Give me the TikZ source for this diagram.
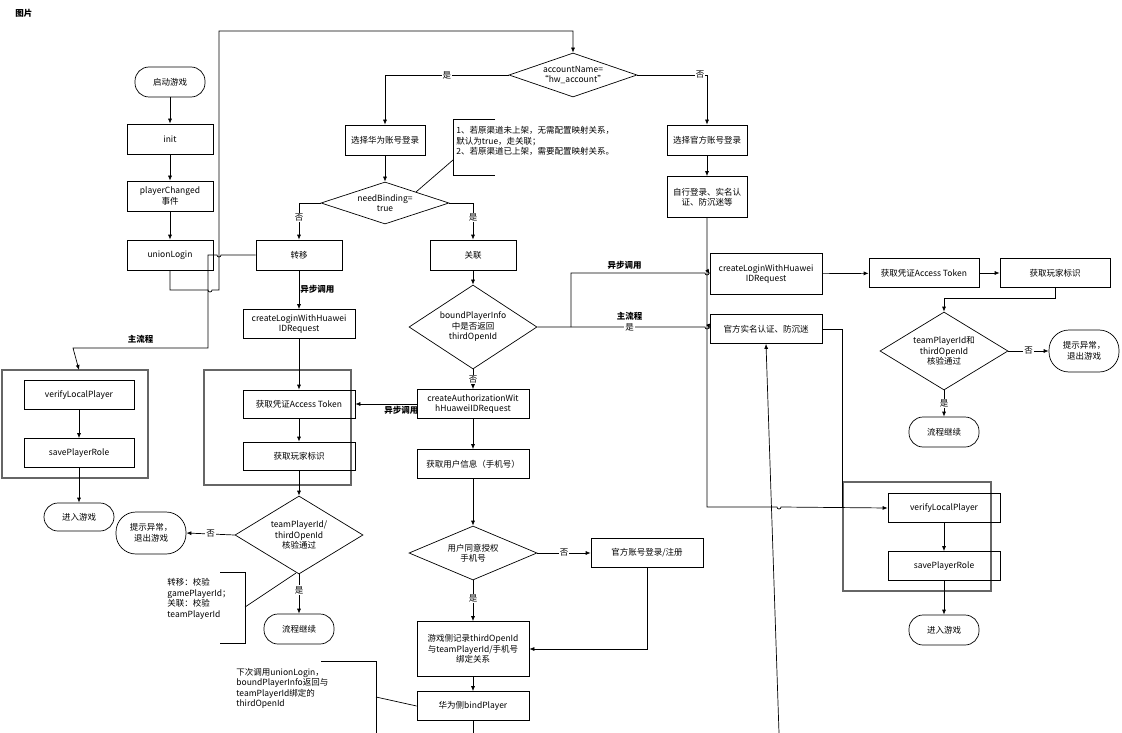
\documentclass[tikz,border=0pt]{standalone}
\usepackage{fontspec}
\setmainfont{Noto Sans CJK SC}
\usetikzlibrary{positioning,shapes.geometric,arrows.meta}
\begin{document}
\fontsize{8.5}{10.5}\selectfont
\begin{tikzpicture}
[
x=1pt, y=-1pt, line width=0.7pt,
box-a/.style={rectangle, draw, minimum width = 86pt, minimum height = 30pt, inner sep=1pt, align=center},
box-b/.style={box-a, minimum width = 112pt},
term-a/.style={rectangle, draw, rounded corners = 14pt, minimum width = 70pt, minimum height = 30pt, align=center},
dec-a/.style={diamond, draw, aspect = 1.7, inner sep = -4pt, minimum width = 128pt, align=center},
group-a/.style={draw, line width=1.1pt, black!60},
text-a/.style={black, align=left, inner sep=1pt},
text-b/.style={black, font=\bfseries, inner sep=1pt},
yes-no/.style={fill=white, inner sep=1pt},
flow/.style={-{Latex[length=5pt,width=4pt]}}
]
\useasboundingbox (0,0) rectangle (1122,733);
\node (title)     [text-b, anchor=west] at (14,13) {图片};

% left column
\node (start)     [term-a]                        at (170,82)  {启动游戏};
\node (init)      [box-a]                         at (170,139) {init};
\node (changed)   [box-a]                         at (170,196) {playerChanged\\事件};
\node (union)     [box-a]                         at (170,255) {unionLogin};
\draw [group-a] (2,370) rectangle (148,478);
\node (verify-l)  [box-b, minimum width=110pt, minimum height=29pt] at (79,395) {verifyLocalPlayer};
\node (save-l)    [box-b, minimum width=110pt, minimum height=29pt] at (79,453) {savePlayerRole};
\node (enter-l)   [term-a, minimum height=28pt]   at (79,517)  {进入游戏};

% top branch
\node (acct)      [dec-a, minimum height=44pt]    at (573,75)  {accountName=\\“hw\_account”};
\node (hw)        [box-a, minimum width=80pt]     at (385,140) {选择华为账号登录};
\node (bind)      [dec-a, minimum height=42pt]    at (385,203) {needBinding=\\true};
\node (off)       [box-a, minimum width=80pt]     at (707,140) {选择官方账号登录};
\node (self)      [box-a, minimum width=80pt, minimum height=41pt] at (707,197) {自行登录、实名认\\证、防沉迷等};
\draw (495,119) -| (453,175) -- (495,175);
\node (note-1)    [text-a, anchor=north west]     at (455,125) {1、若原渠道未上架，无需配置映射关系，\\默认为true，走关联；\\2、若原渠道已上架，需要配置映射关系。};
\coordinate (note-1-c) at (453,160);
\draw (416,192) -- (note-1-c);

% transfer branch
\node (move)      [box-a]                         at (299,255) {转移};
\node (link)      [box-a]                         at (473,255) {关联};
\node (login-l)   [box-b, minimum height=29pt]    at (299,324) {createLoginWithHuawei\\IDRequest};
\draw [group-a] (204,370) rectangle (351,485);
\node (token-l)   [box-b, minimum height=28pt]    at (299,404) {获取凭证Access Token};
\node (ident-l)   [box-b, minimum height=28pt]    at (299,456) {获取玩家标识};
\node (check-l)   [dec-a, minimum height=78pt]    at (299,535) {teamPlayerId/\\thirdOpenId\\核验通过};
\node (err-l)     [term-a, rounded corners=20pt, minimum height=42pt] at (151,533) {提示异常，\\退出游戏};
\node (cont-l)    [term-a]                        at (299,629) {流程继续};
\draw (220,572) -| (245,643) -- (220,643);
\node (note-2)    [text-a, anchor=north west]     at (166,577) {转移：校验\\gamePlayerId；\\关联：校验\\teamPlayerId};
\coordinate (note-2-c) at (245,607);
\draw (296,573) -- (note-2-c);

% link branch
\node (bound)     [dec-a, minimum height=84pt]    at (473,327) {boundPlayerInfo\\中是否返回\\thirdOpenId};
\node (auth)      [box-b, minimum height=29pt]    at (473,404) {createAuthorizationWit\\hHuaweiIDRequest};
\node (info)      [box-b, minimum height=29pt]    at (473,464) {获取用户信息（手机号）};
\node (agree)     [dec-a, minimum height=54pt]    at (473,553) {用户同意授权\\手机号};
\node (reg)       [box-b, minimum height=29pt]    at (647,553) {官方账号登录/注册};
\node (record)    [box-b, minimum height=55pt]    at (473,649) {游戏侧记录thirdOpenId\\与teamPlayerId/手机号\\绑定关系};
\node (hwbind)    [box-b, minimum height=29pt]    at (473,706) {华为侧bindPlayer};
\draw (321,661) -| (376,733);
\node (note-3)    [text-a, anchor=north west]     at (235,667) {下次调用unionLogin，\\boundPlayerInfo返回与\\teamPlayerId绑定的\\thirdOpenId};
\coordinate (note-3-c) at (376,697);
\draw (hwbind.west) -- (note-3-c);
\coordinate (hwbind-end) at (473,733);
\coordinate (real-end)   at (779,733);

% right side
\node (login-r)   [box-b, minimum height=41pt]    at (766,274) {createLoginWithHuawei\\IDRequest};
\node (token-r)   [box-b, minimum width=110pt, minimum height=29pt] at (924,273) {获取凭证Access Token};
\node (ident-r)   [box-b, minimum width=110pt, minimum height=29pt] at (1055,273) {获取玩家标识};
\node (real)      [box-b, minimum height=29pt]    at (766,329) {官方实名认证、防沉迷};
\node (check-r)   [dec-a, minimum height=78pt]    at (944,351) {teamPlayerId和\\thirdOpenId\\核验通过};
\node (err-r)     [term-a, rounded corners=20pt, minimum height=42pt] at (1084,351) {提示异常，\\退出游戏};
\node (cont-r)    [term-a]                        at (944,432) {流程继续};
\draw [group-a] (843,482) rectangle (991,591);
\node (verify-r)  [box-b, minimum height=29pt]    at (944,508) {verifyLocalPlayer};
\node (save-r)    [box-b, minimum height=29pt]    at (944,566) {savePlayerRole};
\node (enter-r)   [term-a]                        at (944,630) {进入游戏};

% connectors
\draw [flow] (start) -- (init);
\draw [flow] (init) -- (changed);
\draw [flow] (changed) -- (union);
\draw [flow] (union.south) |- (208,290) arc (180:0:2) -- (219,290) |- (573,31) -- (acct.north);
\draw [flow] (acct.west) -| (hw.north) node[pos=0.25, yes-no] {是};
\draw [flow] (acct.east) -| (off.north) node[pos=0.45, yes-no] {否};
\draw [flow] (hw) -- (bind);
\draw [flow] (off) -- (self);
\draw [flow] (bind.west) -| (move.north) node[pos=0.7, yes-no] {否};
\draw [flow] (bind.east) -| (link.north) node[pos=0.7, yes-no] {是};
\draw [flow] (move.west) -- (221,255) arc (0:180:2) -- (208,255) |- (73,348) node[pos=0.75, above=3pt, text-b] {主流程} -- (verify-l.north |- 370,370);
\draw [flow] (verify-l) -- (save-l);
\draw [flow] (save-l) -- (enter-l);
\draw [flow] (move) -- (login-l) node[midway, right, text-b] {异步调用};
\draw [flow] (login-l) -- (token-l);
\draw [flow] (token-l) -- (ident-l);
\draw [flow] (ident-l) -- (check-l);
\draw [flow] (check-l.west) -- (err-l.east) node[midway, yes-no] {否};
\draw [flow] (check-l.south) -- (cont-l.north) node[pos=0.4, yes-no] {是};
\draw [flow] (link) -- (bound);
\draw [flow] (bound.south) -- (auth.north) node[midway, yes-no] {否};
\draw [flow] (auth.west) -- (token-l.east) node[pos=0.25, below=1pt, text-b] {异步调用};
\draw [flow] (auth) -- (info);
\draw [flow] (info) -- (agree);
\draw [flow] (agree.east) -- (reg.west) node[midway, yes-no] {否};
\draw [flow] (agree.south) -- (record.north) node[pos=0.45, yes-no] {是};
\draw [flow] (reg.south) |- (record.east);
\draw [flow] (record) -- (hwbind);
\draw (hwbind) -- (hwbind-end);
\draw [flow] (bound.east) -- node[pos=0.55, above=5pt, text-b] {主流程} node[pos=0.55, yes-no] {是} (705,327) arc (180:0:2) -- (real.west);
\draw [flow] (571,327) -- (571,273) -- node[pos=0.4, above=2pt, text-b] {异步调用} (705,273) arc (180:0:2) -- (login-r.west);
\draw [flow] (login-r) -- (token-r);
\draw [flow] (token-r) -- (ident-r);
\draw [flow] (ident-r.south) |- (944,298) -- (check-r.north);
\draw [flow] (check-r.east) -- (err-r.west) node[midway, yes-no] {否};
\draw [flow] (check-r.south) -- (cont-r.north) node[midway, yes-no] {是};
\draw [flow] (self.south) |- (777,507) arc (180:0:2) -- (verify-r.west);
\draw (real.east) -| (842,507);
\draw [flow] (real-end) -- (real.south);
\draw [flow] (verify-r) -- (save-r);
\draw [flow] (save-r) -- (enter-r);
\end{tikzpicture}
\end{document}
